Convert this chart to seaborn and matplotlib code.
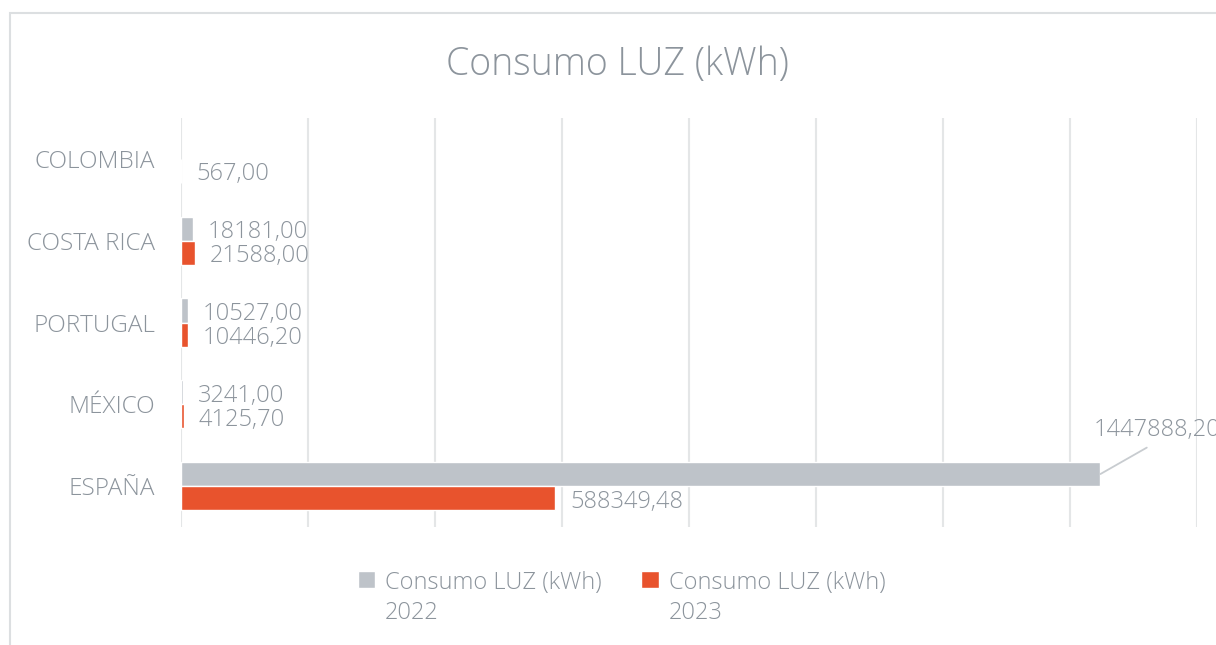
import pandas as pd
import numpy as np
import matplotlib.pyplot as plt
import seaborn as sns
from matplotlib.patches import Rectangle

# data
paises = ['COLOMBIA', 'COSTA RICA', 'PORTUGAL', 'MÉXICO', 'ESPAÑA']
consumo_2022 = [np.nan, 18181.00, 10527.00, 3241.00, 1447888.20]
consumo_2023 = [567.00, 21588.00, 10446.20, 4125.70, 588349.48]
series = ['Consumo LUZ (kWh)\n2022', 'Consumo LUZ (kWh)\n2023']
colores = ['#BEC3C9', '#E8532D']

TEXT = '#8C949C'
GRID = '#E4E6E7'

df = pd.DataFrame({
    'pais': paises * 2,
    'valor': consumo_2022 + consumo_2023,
    'serie': [series[0]] * len(paises) + [series[1]] * len(paises),
})

sns.set_style('white')
plt.rcParams['font.family'] = ['Open Sans', 'DejaVu Sans']

fig = plt.figure(figsize=(12.16, 6.45), dpi=100)
ax = fig.add_axes([181 / 1216, 1 - 527 / 645, 1016 / 1216, 409 / 645])

sns.barplot(data=df, y='pais', x='valor', hue='serie', order=paises,
            hue_order=series, palette=colores, orient='h', width=0.59,
            gap=0, saturation=1, ax=ax, legend=True)

ax.set_xlim(0, 1600000)
ax.set_ylim(4.5, -0.5)
ax.set_xticks(np.arange(0, 1600001, 200000))
ax.set_xticklabels([])
ax.grid(axis='x', color=GRID, linewidth=1.5)
ax.grid(axis='y', visible=False)
ax.set_axisbelow(True)
for s in ax.spines.values():
    s.set_visible(False)
ax.tick_params(axis='both', length=0)
ax.tick_params(axis='y', pad=18.5, labelsize=17.5, labelcolor=TEXT)
for t in ax.get_yticklabels():
    t.set_fontweight('light')
ax.set_xlabel('')
ax.set_ylabel('')

# data labels
def fmt(v):
    return f'{v:.2f}'.replace('.', ',')

bar_h = 0.59 / 2
for k, vals in enumerate([consumo_2022, consumo_2023]):
    for i, v in enumerate(vals):
        if np.isnan(v):
            continue
        yc = i - bar_h / 2 + k * bar_h
        if v > 1000000:
            ax.annotate(fmt(v), xy=(v, yc), xytext=(41, 32),
                        textcoords='offset points', ha='center', va='center',
                        fontsize=17, color=TEXT, fontweight='light',
                        annotation_clip=False,
                        arrowprops=dict(arrowstyle='-', color='#C8CCD0', lw=1.3,
                                        relpos=(0.5, 0.0), shrinkA=4, shrinkB=0))
        else:
            ax.annotate(fmt(v), xy=(v, yc), xytext=(11, -2.5),
                        textcoords='offset points', ha='left', va='center',
                        fontsize=17, color=TEXT, fontweight='light')

# legend at the bottom
h, l = ax.get_legend_handles_labels()
ax.legend_.remove()
leg = fig.legend(h, l, loc='upper center', bbox_to_anchor=(0.511, 0.133),
                 ncol=2, frameon=False, fontsize=17, handlelength=0.75,
                 handleheight=0.75, handletextpad=0.4, columnspacing=1.7,
                 borderpad=0)
for t in leg.get_texts():
    t.set_color(TEXT)
    t.set_fontweight('light')
    t.set_linespacing(1.35)
# put the colour square next to the first text line
for col in leg._legend_handle_box.get_children():
    for item in col.get_children():
        item.align = 'top'

fig.text(0.508, 0.9, 'Consumo LUZ (kWh)', ha='center', va='center',
         fontsize=27, color=TEXT, fontweight='light')

# outer chart frame
fig.patches.append(Rectangle((10 / 1216, -0.2), 1.3, 1.2 - 13 / 645,
                             transform=fig.transFigure, fill=False,
                             edgecolor='#DCDFE1', linewidth=1.5))

fig.savefig('out.png', dpi=100)
